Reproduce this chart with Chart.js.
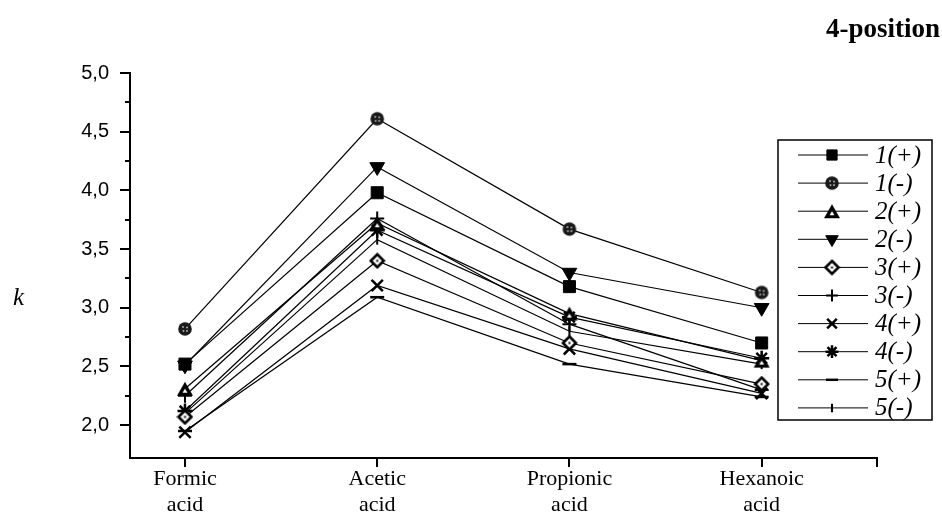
<!DOCTYPE html>
<html>
<head>
<meta charset="utf-8">
<script src="https://cdn.jsdelivr.net/npm/chart.js@4/dist/chart.umd.min.js"></script>
<style>
  html, body { margin: 0; padding: 0; background: #fff; }
  #wrap { width: 942px; height: 520px; position: relative; }
</style>
</head>
<body>
<div id="wrap"><canvas id="c" width="942" height="520"></canvas></div>
<script>
// Retention factor k for each acid
const categories = ['Formic acid', 'Acetic acid', 'Propionic acid', 'Hexanoic acid'];
const seriesNames = ['1(+)', '1(-)', '2(+)', '2(-)', '3(+)', '3(-)', '4(+)', '4(-)', '5(+)', '5(-)'];
const k1p = [2.52, 3.98, 3.18, 2.70];
const k1m = [2.82, 4.61, 3.67, 3.13];
const k2p = [2.31, 3.72, 2.95, 2.55];
const k2m = [2.51, 4.20, 3.30, 3.00];
const k3p = [2.07, 3.40, 2.70, 2.35];
const k3m = [2.25, 3.76, 2.86, 2.30];
const k4p = [1.94, 3.19, 2.65, 2.27];
const k4m = [2.12, 3.66, 2.92, 2.57];
const k5p = [1.95, 3.09, 2.52, 2.24];
const k5m = [2.10, 3.58, 2.80, 2.52];
const seriesValues = [k1p, k1m, k2p, k2m, k3p, k3m, k4p, k4m, k5p, k5m];
const yTicks = [2.0, 2.5, 3.0, 3.5, 4.0, 4.5, 5.0];
const yMinorTicks = [2.25, 2.75, 3.25, 3.75, 4.25, 4.75];

// Small bitmap markers for the patterned symbols
function makeMarker(w, h, draw) {
  const c = document.createElement('canvas');
  c.width = w; c.height = h;
  draw(c.getContext('2d'), w, h);
  return c;
}
const dottedCircle = makeMarker(16, 16, (g) => {
  g.fillStyle = '#1a1a1a';
  g.beginPath(); g.arc(8, 8, 6.8, 0, Math.PI * 2); g.fill();
  g.fillStyle = '#c8c8c8';
  [[6, 6], [10, 6.5], [6.5, 10], [10, 10]].forEach(([x, y]) => { g.fillRect(x - 0.8, y - 0.8, 1.6, 1.6); });
});
const hollowTriangle = makeMarker(18, 16, (g) => {
  g.fillStyle = '#000';
  g.beginPath(); g.moveTo(9, 1); g.lineTo(17, 15); g.lineTo(1, 15); g.closePath(); g.fill();
  g.fillStyle = '#fff';
  g.beginPath(); g.moveTo(9, 8); g.lineTo(11.5, 12); g.lineTo(6.5, 12); g.closePath(); g.fill();
});
const dottedDiamond = makeMarker(17, 17, (g) => {
  g.strokeStyle = '#000'; g.lineWidth = 2.6; g.fillStyle = '#fff';
  g.beginPath(); g.moveTo(8.5, 2); g.lineTo(15, 8.5); g.lineTo(8.5, 15); g.lineTo(2, 8.5); g.closePath();
  g.fill(); g.stroke();
  g.fillStyle = '#000'; g.fillRect(7.5, 7.5, 2, 2);
});

const markerStyles = [
  { pointStyle: 'rect', radius: 8.5, borderWidth: 1, fill: '#000', rotation: 0 },
  { pointStyle: dottedCircle, radius: 7, borderWidth: 0, fill: '#000', rotation: 0 },
  { pointStyle: hollowTriangle, radius: 8, borderWidth: 0, fill: '#000', rotation: 0 },
  { pointStyle: 'triangle', radius: 8.5, borderWidth: 1, fill: '#000', rotation: 180 },
  { pointStyle: dottedDiamond, radius: 8, borderWidth: 0, fill: '#fff', rotation: 0 },
  { pointStyle: 'cross', radius: 7, borderWidth: 2, fill: '#000', rotation: 0 },
  { pointStyle: 'crossRot', radius: 8, borderWidth: 2.5, fill: '#000', rotation: 0 },
  { pointStyle: 'star', radius: 7.5, borderWidth: 2.5, fill: '#000', rotation: 0 },
  { pointStyle: 'line', radius: 7, borderWidth: 2.5, fill: '#000', rotation: 0 },
  { pointStyle: 'line', radius: 5, borderWidth: 2, fill: '#000', rotation: 90 }
];

const datasets = seriesNames.map((name, i) => ({
  label: name,
  data: seriesValues[i].map((v, j) => ({ x: j, y: v })),
  borderColor: '#000',
  borderWidth: 1.2,
  pointStyle: markerStyles[i].pointStyle,
  pointRadius: markerStyles[i].radius,
  pointHoverRadius: markerStyles[i].radius,
  pointBorderWidth: markerStyles[i].borderWidth,
  pointRotation: markerStyles[i].rotation,
  pointBackgroundColor: markerStyles[i].fill,
  pointBorderColor: '#000',
  fill: false,
  tension: 0
}));

// Axis tick marks, title, y-axis label and the framed legend
const decorations = {
  id: 'decorations',
  afterDraw(chart) {
    const { ctx, scales: { x, y } } = chart;
    const left = x.left, bottom = y.bottom;
    ctx.save();
    ctx.strokeStyle = '#000';
    ctx.lineWidth = 2;
    ctx.beginPath();
    yTicks.forEach(v => { const py = Math.round(y.getPixelForValue(v)); ctx.moveTo(left, py); ctx.lineTo(left - 10, py); });
    yMinorTicks.forEach(v => { const py = Math.round(y.getPixelForValue(v)); ctx.moveTo(left, py); ctx.lineTo(left - 5, py); });
    categories.forEach((c, i) => { const px = Math.round(x.getPixelForValue(i)); ctx.moveTo(px, bottom); ctx.lineTo(px, bottom + 9); });
    ctx.moveTo(x.right, bottom); ctx.lineTo(x.right, bottom + 9);
    ctx.stroke();

    ctx.fillStyle = '#000';
    ctx.font = 'bold 27px "Liberation Serif", "Times New Roman", serif';
    ctx.textAlign = 'right'; ctx.textBaseline = 'middle';
    ctx.fillText('4-position', 940, 30);

    ctx.textAlign = 'left';
    ctx.font = 'italic 25px "Liberation Serif", "Times New Roman", serif';
    ctx.fillText('k', 13, 298);

    // legend
    ctx.lineWidth = 1.5;
    ctx.strokeRect(778, 140, 154, 280);
    const draw = Chart.helpers && Chart.helpers.drawPoint;
    seriesNames.forEach((name, i) => {
      const ly = 155 + i * 28.1;
      ctx.lineWidth = 1;
      ctx.beginPath(); ctx.moveTo(798, ly); ctx.lineTo(868, ly); ctx.stroke();
      const m = markerStyles[i];
      ctx.fillStyle = m.fill; ctx.strokeStyle = '#000'; ctx.lineWidth = m.borderWidth;
      if (draw) draw(ctx, { pointStyle: m.pointStyle, radius: m.radius * 0.85, borderWidth: m.borderWidth, rotation: m.rotation }, 832, ly);
      ctx.fillStyle = '#000';
      ctx.font = 'italic 25px "Liberation Serif", "Times New Roman", serif';
      ctx.textAlign = 'left'; ctx.textBaseline = 'middle';
      ctx.fillText(name, 875, ly + 1);
    });
    ctx.restore();
  }
};

new Chart(document.getElementById('c'), {
  type: 'line',
  data: { datasets },
  options: {
    responsive: false,
    animation: false,
    events: [],
    layout: { padding: { top: 73, right: 65, left: 0, bottom: 0 } },
    plugins: { legend: { display: false }, tooltip: { enabled: false }, title: { display: false } },
    scales: {
      x: {
        type: 'linear',
        min: -0.286,
        max: 3.6,
        afterFit(s) { s.height = 62; },
        afterBuildTicks(s) { s.ticks = categories.map((c, i) => ({ value: i })); },
        grid: { display: false, drawTicks: false },
        border: { display: true, color: '#000', width: 2 },
        ticks: {
          padding: 9,
          color: '#000',
          font: { family: '"Liberation Serif", "Times New Roman", serif', size: 22, lineHeight: 1.15 },
          callback: (v) => { const c = categories[v]; return c ? c.split(' ') : ''; }
        }
      },
      y: {
        min: 1.72,
        max: 5.0,
        afterFit(s) { s.width = 130; },
        afterBuildTicks(s) { s.ticks = yTicks.map(v => ({ value: v })); },
        grid: { display: false, drawTicks: false },
        border: { display: true, color: '#000', width: 2 },
        ticks: {
          padding: 21,
          color: '#000',
          font: { family: '"Liberation Sans", Arial, sans-serif', size: 20 },
          callback: (v) => v.toFixed(1).replace('.', ',')
        }
      }
    }
  },
  plugins: [decorations]
});
</script>
</body>
</html>
